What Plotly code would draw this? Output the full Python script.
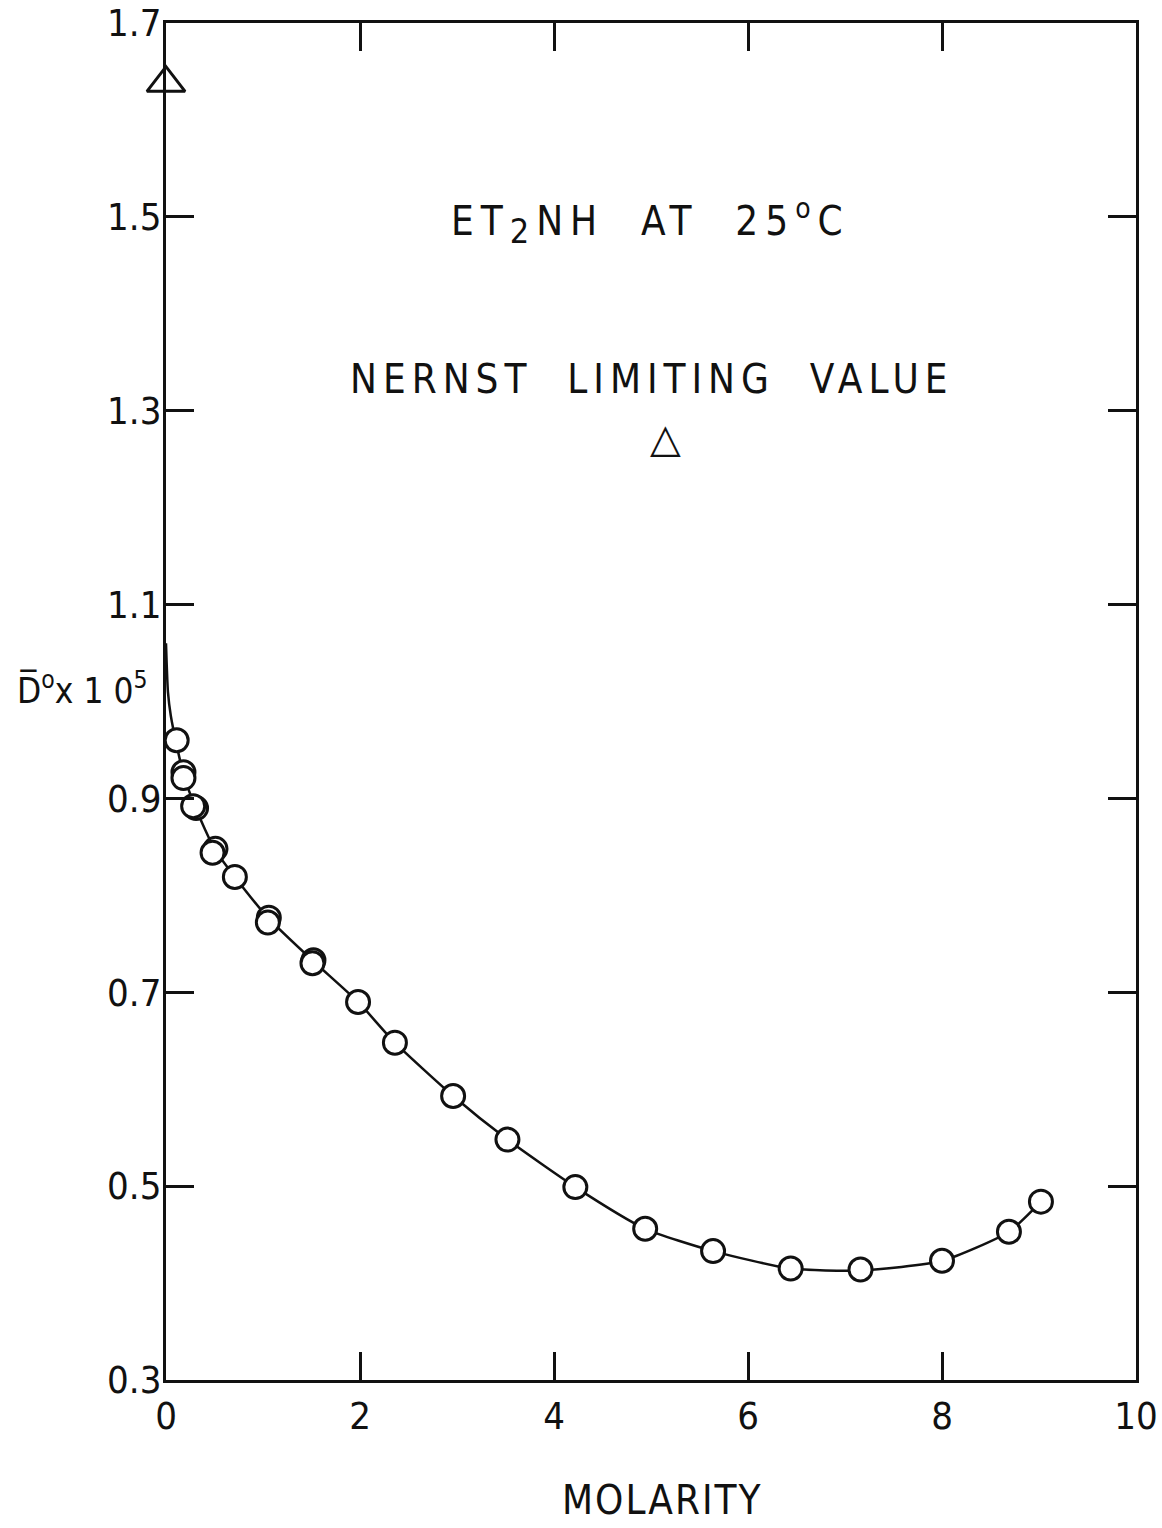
import plotly.graph_objects as go

# Measured diffusion coefficients of diethylamine (Et2NH) in water at 25 C
molarity = [0.11, 0.18, 0.18, 0.31, 0.28, 0.51, 0.48, 0.71, 1.06, 1.05, 1.52, 1.51,
            1.98, 2.36, 2.96, 3.52, 4.22, 4.94, 5.64, 6.44, 7.16, 8.00, 8.69, 9.02]
d_times_1e5 = [0.960, 0.927, 0.921, 0.890, 0.892, 0.848, 0.844, 0.819, 0.777, 0.772, 0.733, 0.730,
               0.690, 0.648, 0.593, 0.548, 0.499, 0.456, 0.433, 0.415, 0.414, 0.423, 0.453, 0.484]

# Smooth curve drawn through the measurements
curve_x = [0.0, 0.02, 0.05, 0.11, 0.18, 0.31, 0.50, 0.71, 1.06, 1.52, 1.98, 2.36, 2.96,
           3.52, 4.22, 4.94, 5.64, 6.44, 7.16, 8.00, 8.69, 9.02]
curve_y = [1.06, 1.01, 0.985, 0.955, 0.925, 0.889, 0.848, 0.819, 0.776, 0.732, 0.690, 0.648,
           0.593, 0.548, 0.499, 0.456, 0.433, 0.415, 0.413, 0.423, 0.453, 0.484]

# Nernst limiting value at infinite dilution
nernst_x = [0.0]
nernst_y = [1.638]

x_ticks = [0, 2, 4, 6, 8, 10]
x_tick_text = ["0", "2", "4", "6", "8", "10"]
y_ticks = [0.3, 0.5, 0.7, 0.9, 1.1, 1.3, 1.5, 1.7]
y_tick_text = ["0.3", "0.5", "0.7", "0.9", "1.1", "1.3", "1.5", "1.7"]

INK = "#111111"
FONT = "DejaVu Sans Condensed, DejaVu Sans, sans-serif"

fig = go.Figure()

fig.add_trace(go.Scatter(
    x=curve_x, y=curve_y, mode="lines",
    line=dict(color=INK, width=2.5, shape="spline", smoothing=0.6),
    hoverinfo="skip", showlegend=False,
))

fig.add_trace(go.Scatter(
    x=molarity, y=d_times_1e5, mode="markers",
    marker=dict(symbol="circle", size=23, color="white",
                line=dict(color=INK, width=3)),
    showlegend=False,
))

fig.add_trace(go.Scatter(
    x=nernst_x, y=nernst_y, mode="markers", cliponaxis=False,
    marker=dict(symbol="triangle-up", size=33, color="rgba(0,0,0,0)",
                line=dict(color=INK, width=3)),
    showlegend=False,
))


def spaced(text, px):
    return f'<span style="letter-spacing:{px}px">{text}</span>'


annotations = [
    dict(x=0.499, y=0.854,
         text=spaced('ET<sub><span style="font-size:34px">2</span></sub>NH  AT  25<sup>o</sup>C', 7),
         font=dict(size=40, color=INK, family=FONT)),
    dict(x=0.501, y=0.738, text=spaced("NERNST  LIMITING  VALUE", 6),
         font=dict(size=40, color=INK, family=FONT)),
    dict(x=0.515, y=0.694, text="△",
         font=dict(size=40, color=INK, family="DejaVu Sans")),
    dict(x=0.512, y=-0.0884, text=spaced("MOLARITY", 2),
         font=dict(size=40, color=INK, family=FONT)),
    dict(x=-0.1557, y=0.51, xanchor="left",
         text="D\u0305<sup>o</sup>x 1 0<sup>5</sup>",
         font=dict(size=35, color=INK, family=FONT)),
]
for a in annotations:
    a.setdefault("xanchor", "center")
    a.update(xref="paper", yref="paper", showarrow=False, yanchor="middle")

axis_common = dict(
    showgrid=False, zeroline=False, showline=True, linecolor=INK, linewidth=3,
    mirror="ticks", ticks="inside", ticklen=28, tickwidth=2.5, tickcolor=INK,
    tickfont=dict(size=38, color=INK, family=FONT),
    ticklabeloverflow="allow", automargin=False,
)

fig.update_layout(
    width=1162, height=1528,
    margin=dict(l=166, r=26, t=23, b=148, autoexpand=False),
    paper_bgcolor="white", plot_bgcolor="white",
    xaxis=dict(range=[0, 10], tickvals=x_ticks, ticktext=x_tick_text,
               ticklabelstandoff=0, **axis_common),
    yaxis=dict(range=[0.3, 1.7], tickvals=y_ticks, ticktext=y_tick_text,
               ticklabelstandoff=-6, **axis_common),
    annotations=annotations,
    showlegend=False,
)

fig.write_html("out.html")
